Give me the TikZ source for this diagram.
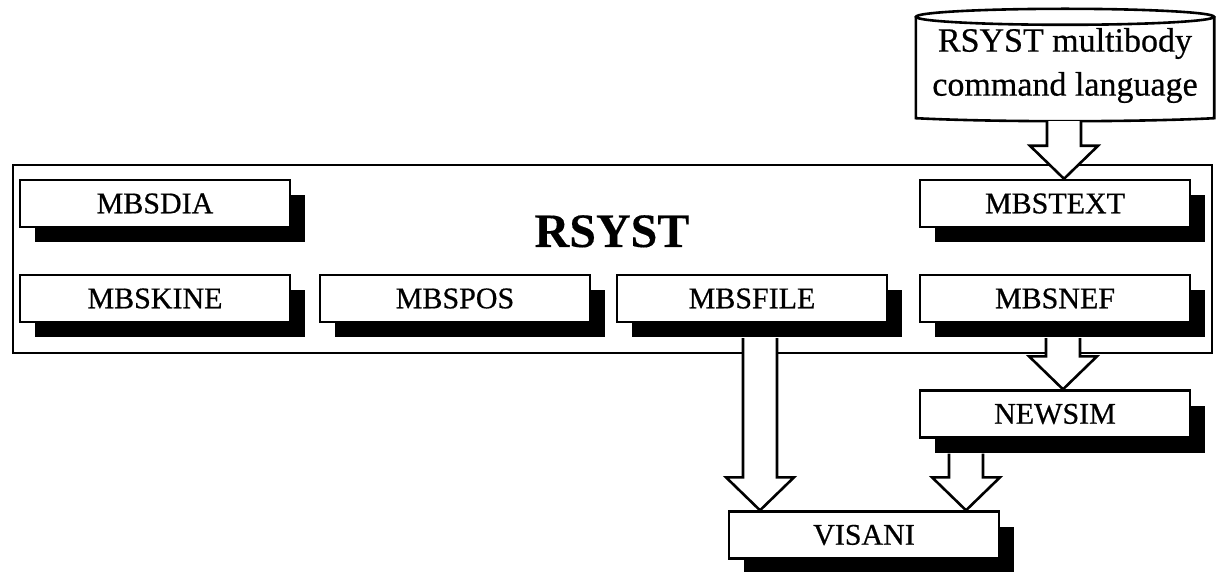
\documentclass[tikz,border=0pt]{standalone}
\usepackage{fontspec}
\setmainfont{Liberation Serif}[FakeBold=0.6]
\newfontfamily\boldtitle{Liberation Serif}[FakeBold=0.3]
\usetikzlibrary{shadows,calc}
\tikzset{
  mod/.style={draw, line width=2.4pt, fill=white, minimum width=270pt, minimum height=47pt,
    inner sep=0pt, font=\fontsize{30}{32}\selectfont,
    general shadow={fill=black, shadow xshift=15pt, shadow yshift=-15pt}},
  bigbox/.style={draw, line width=2.8pt, minimum width=1199pt, minimum height=188pt, inner sep=0pt},
  fatarr/.style={draw, line width=2.6pt, fill=white, line join=miter},
  cylline/.style={line width=2.6pt},
}
\newcommand\fatarrow[2]{%
  \draw[fatarr] ([xshift=-17pt]#1) -- ([xshift=-17pt,yshift=33pt]#2) -- ([xshift=-34pt,yshift=33pt]#2)
    -- (#2) -- ([xshift=34pt,yshift=33pt]#2) -- ([xshift=17pt,yshift=33pt]#2) -- ([xshift=17pt]#1);}
\begin{document}
\begin{tikzpicture}[x=1pt,y=-1pt]
\fill[white] (0,0) rectangle (1218,572);
\useasboundingbox (0,0) rectangle (1218,572);
% big RSYST frame
\node[bigbox] (rsyst) at (612.5,259) {};
\node[font=\fontsize{48}{50}\selectfont\boldtitle\bfseries, anchor=base, inner sep=0pt] (title) at (612,247) {RSYST};
% modules
\node[mod] (mbsdia) at (155,203.5) {MBSDIA};
\node[mod] (mbskine) at (155,298.5) {MBSKINE};
\node[mod] (mbspos) at (455,298.5) {MBSPOS};
\node[mod] (mbsfile) at (752,298.5) {MBSFILE};
\node[mod] (mbsnef) at (1055,298.5) {MBSNEF};
\node[mod] (mbstext) at (1055,203.5) {MBSTEXT};
\node[mod] (newsim) at (1055,414) {NEWSIM};
\node[mod] (visani) at (864,535) {VISANI};
% cylinder
\node[minimum width=298pt, minimum height=101pt, inner sep=0pt, align=center,
      font=\fontsize{34}{46}\selectfont] (cyl) at (1065,65.5) {RSYST multibody\\[-2pt]command language};
\draw[cylline] ([yshift=-2pt]cyl.north west) -- ([yshift=-2pt]cyl.south west) .. controls ([xshift=80pt,yshift=-6pt]cyl.south west) and ([xshift=-80pt,yshift=-6pt]cyl.south east) .. ([yshift=-2pt]cyl.south east) -- ([yshift=-2pt]cyl.north east);
\draw[cylline] ([yshift=-2pt]cyl.north) ellipse (149pt and 8pt);
% arrow anchor coordinates
\coordinate (c1) at ($(1064,0 |- cyl.south)+(0,5)$);
\coordinate (c2) at (1064,0 |- mbstext.north);
\coordinate (f1) at ($(760,0 |- mbsfile.south)+(0,15)$);
\coordinate (f2) at (760,0 |- visani.north);
\coordinate (n1) at ($(1063,0 |- mbsnef.south)+(0,15)$);
\coordinate (n2) at (1063,0 |- newsim.north);
\coordinate (s1) at ($(966,0 |- newsim.south)+(0,15)$);
\coordinate (s2) at (966,0 |- visani.north);
% arrows
\fatarrow{c1}{c2}
\fatarrow{f1}{f2}
\fatarrow{n1}{n2}
\fatarrow{s1}{s2}
\end{tikzpicture}
\end{document}
